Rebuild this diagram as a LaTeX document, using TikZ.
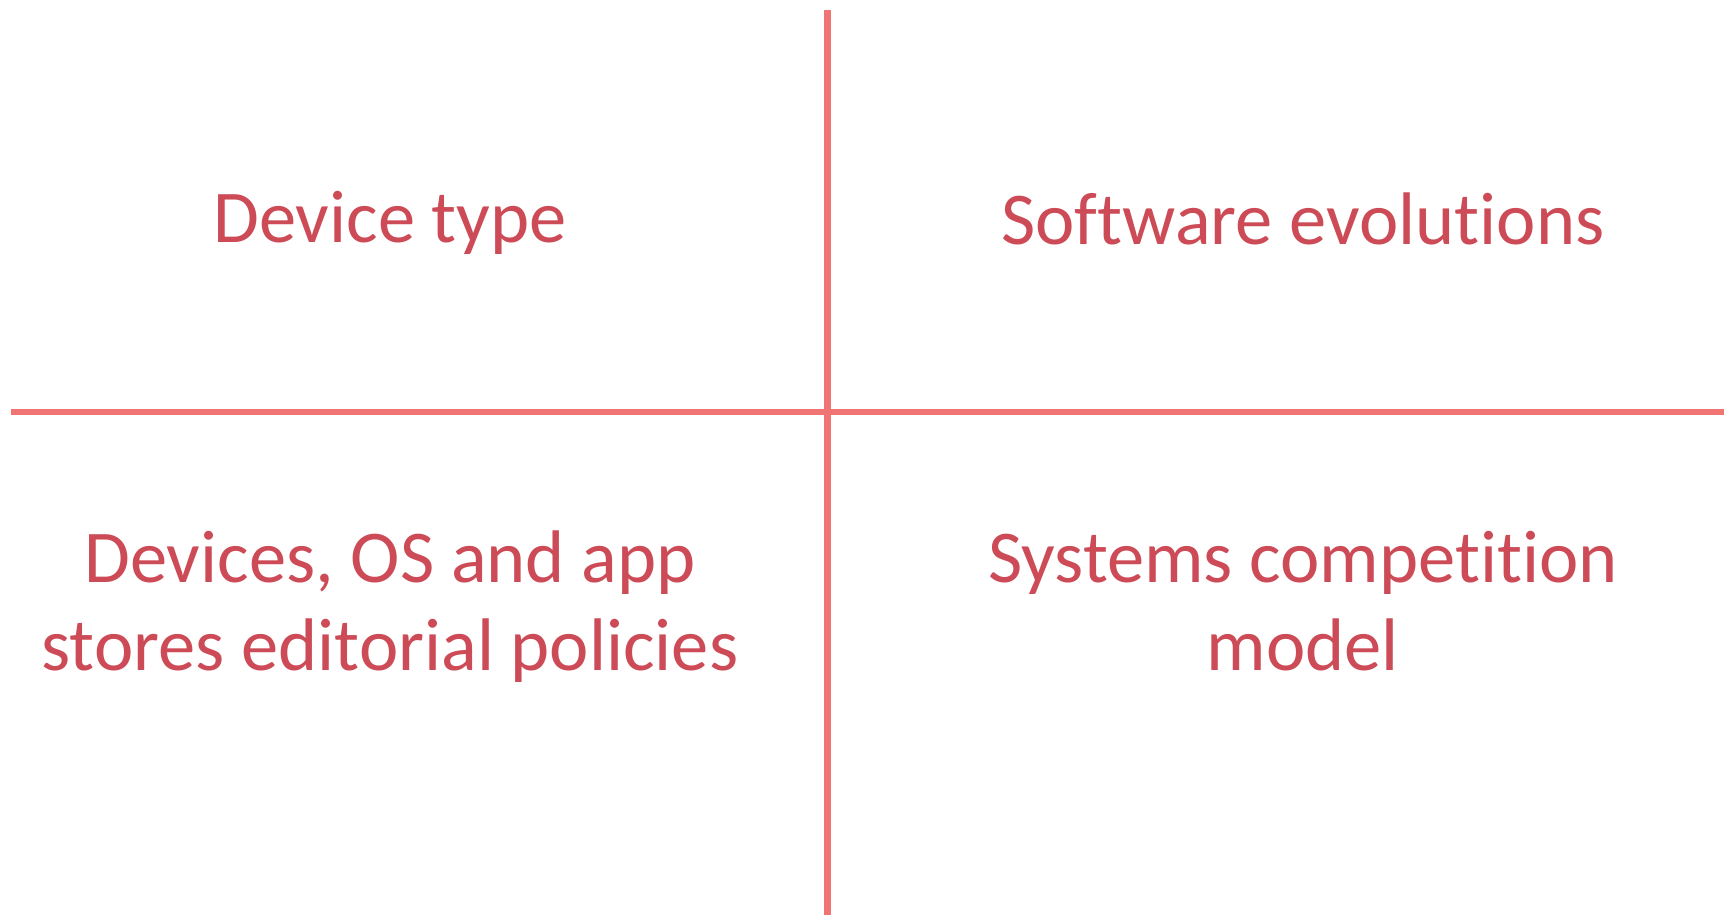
\documentclass[tikz,border=0pt]{standalone}
\usepackage{fontspec}
\setmainfont[Ligatures=NoCommon]{Carlito}
\definecolor{linecol}{HTML}{F07474}
\definecolor{textcol}{HTML}{CC4B57}
\begin{document}
\begin{tikzpicture}[x=1pt,y=-1pt,
  divider/.style={draw=linecol,line width=6.5pt},
  label/.style={text=textcol,font=\fontsize{74.5}{88}\selectfont,align=center,anchor=base,inner sep=0pt}]
\useasboundingbox[fill=white] (0,0) rectangle (1724,915);
\coordinate (vtop) at (827.5,10);
\coordinate (vbot) at (827.5,915);
\coordinate (hleft) at (11,412);
\coordinate (hright) at (1724,412);
\draw[divider] (vtop) -- (vbot);
\draw[divider] (hleft) -- (hright);
\node[label] (tl) at (390,242) {Device type};
\node[label] (tr) at (1303,244) {Software evolutions};
\node[label] (bl) at (390,670) {Devices, OS and app\\stores editorial policies};
\node[label] (br) at (1303,670) {Systems competition\\model};
\end{tikzpicture}
\end{document}
